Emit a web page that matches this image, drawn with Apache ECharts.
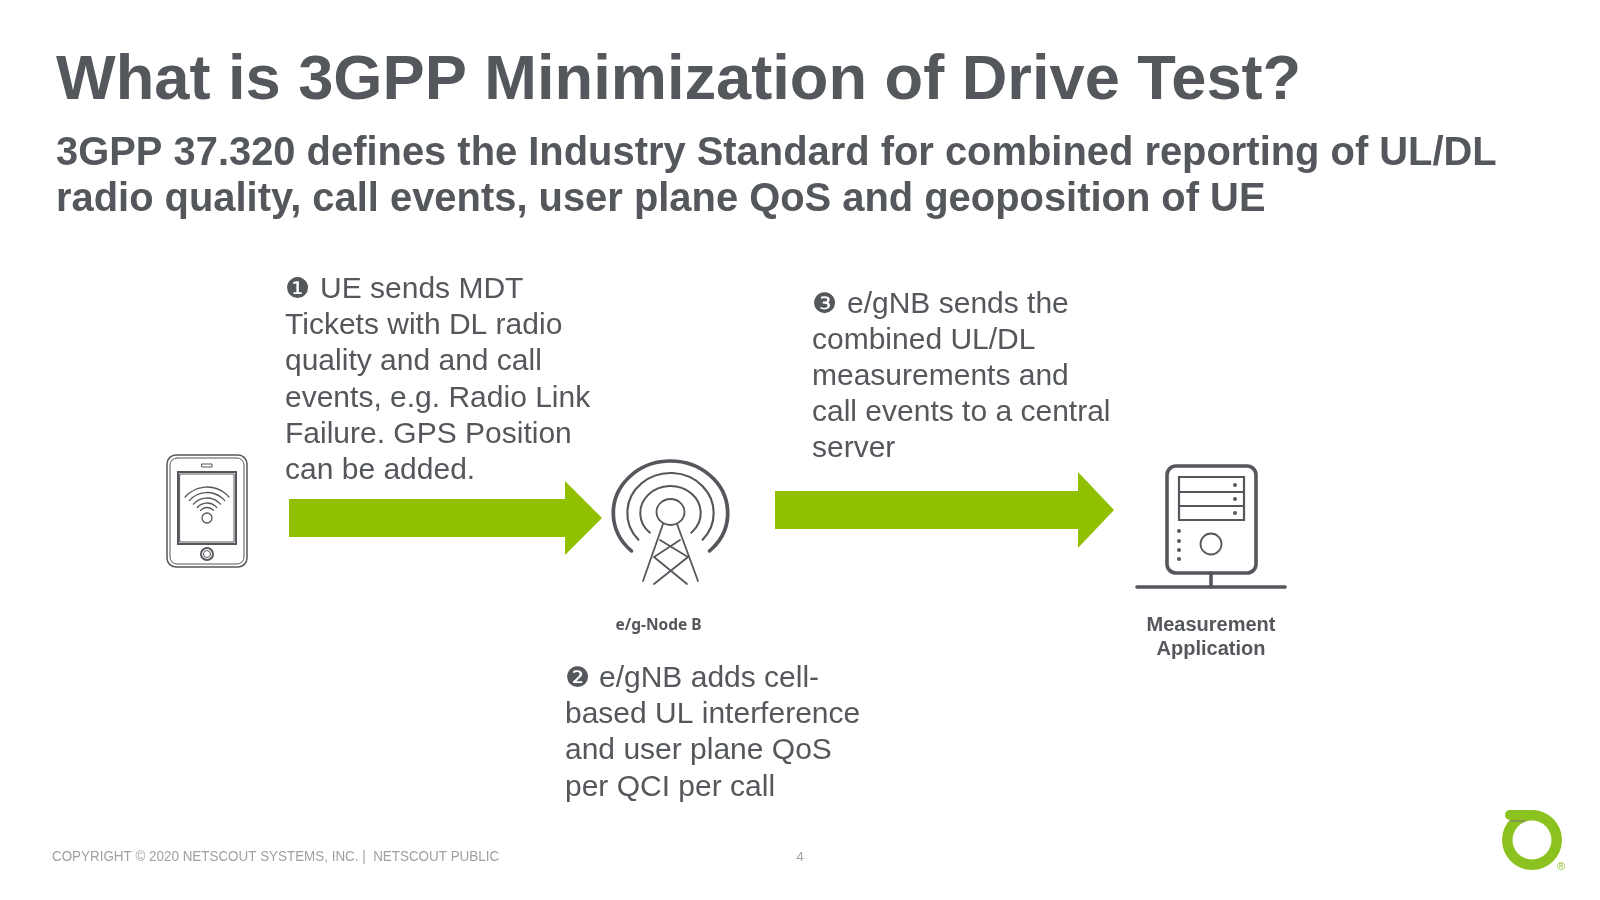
<!DOCTYPE html>
<html>
<head>
<meta charset="utf-8">
<title>3GPP MDT</title>
<script src="https://cdn.jsdelivr.net/npm/echarts@6/dist/echarts.min.js"></script>
<style>
html, body { margin: 0; padding: 0; background: #fff; }
#main { width: 1600px; height: 900px; }
</style>
</head>
<body>
<div id="main"></div>
<script>
var titleText = 'What is 3GPP Minimization of Drive Test?';
var subtitleLines = [
    '3GPP 37.320 defines the Industry Standard for combined reporting of UL/DL',
    'radio quality, call events, user plane QoS and geoposition of UE'
];
var step1Marker = '\u2776';
var step1Lines = ['UE sends MDT', 'Tickets with DL radio', 'quality and and call', 'events, e.g. Radio Link', 'Failure. GPS Position', 'can be added.'];
var step2Marker = '\u2777';
var step2Lines = ['e/gNB adds cell-', 'based UL interference', 'and user plane QoS', 'per QCI per call'];
var step3Marker = '\u2778';
var step3Lines = ['e/gNB sends the', 'combined UL/DL', 'measurements and', 'call events to a central', 'server'];
var nodeLabel = 'e/g-Node B';
var appLabels = ['Measurement', 'Application'];
var footerText = 'COPYRIGHT \u00a9 2020 NETSCOUT SYSTEMS, INC. |  NETSCOUT PUBLIC';
var pageNumber = '4';

var DARK = '#54575b';
var GREEN = '#90c000';
var LOGO = '#8cc220';
var SANS = '"Liberation Sans", Arial, sans-serif';
var els = [];

function txt(x, y, text, font, fill, align) {
    els.push({
        type: 'text', x: x, y: y,
        style: { text: text, font: font, fill: fill || DARK, textAlign: align || 'left', textVerticalAlign: 'middle' }
    });
}
function stroke(w, color) {
    return { fill: null, stroke: color || DARK, lineWidth: w, lineCap: 'round' };
}
function rect(x, y, w, h, r, lw) {
    els.push({ type: 'rect', shape: { x: x, y: y, width: w, height: h, r: r }, style: stroke(lw) });
}
function circle(cx, cy, r, lw) {
    els.push({ type: 'circle', shape: { cx: cx, cy: cy, r: r }, style: stroke(lw) });
}
function dot(cx, cy, r) {
    els.push({ type: 'circle', shape: { cx: cx, cy: cy, r: r }, style: { fill: DARK } });
}
function line(x1, y1, x2, y2, lw) {
    els.push({ type: 'line', shape: { x1: x1, y1: y1, x2: x2, y2: y2 }, style: stroke(lw) });
}
function poly(points, lw) {
    els.push({ type: 'polyline', shape: { points: points }, style: stroke(lw) });
}
// arc going over the top, a is the angle below horizontal at both ends (degrees)
function topArc(cx, cy, r, sx, a, lw) {
    els.push({
        type: 'arc', x: cx, y: cy, scaleX: sx,
        shape: { cx: 0, cy: 0, r: r, startAngle: (180 - a) * Math.PI / 180, endAngle: (360 + a) * Math.PI / 180, clockwise: true },
        style: stroke(lw)
    });
}
function arrow(x0, x1, x2, yc, hs, hh) {
    els.push({
        type: 'polygon',
        shape: { points: [[x0, yc - hs], [x1, yc - hs], [x1, yc - hh], [x2, yc], [x1, yc + hh], [x1, yc + hs], [x0, yc + hs]] },
        style: { fill: GREEN }
    });
}
function block(marker, lines, x, offset, y0, step) {
    txt(x, y0 + 1, marker, '28px "DejaVu Sans"');
    lines.forEach(function (s, i) {
        txt(i === 0 ? x + offset : x, y0 + i * step, s, '30px ' + SANS);
    });
}

// headings
txt(56, 82, titleText, 'bold 63.2px ' + SANS);
subtitleLines.forEach(function (s, i) {
    txt(56, 154 + i * 45.5, s, 'bold 39.9px ' + SANS);
});

// text blocks
block(step1Marker, step1Lines, 285, 35, 290, 36.1);
block(step2Marker, step2Lines, 565, 34, 679, 36.1);
block(step3Marker, step3Lines, 812, 35, 304.5, 36.1);

// arrows
arrow(289, 565, 602, 518, 19, 37);
arrow(775, 1078, 1114, 510, 19, 38);

// phone
rect(167, 455, 80, 112, 9, 1.5);
rect(170, 458, 74, 106, 7, 1);
rect(178, 472, 58, 72, 0, 2);
rect(180, 474, 54, 68, 0, 1);
rect(202, 464, 10, 3, 0, 1);
circle(207, 554, 6, 2);
circle(207, 554, 3.5, 1);
circle(207, 518, 5, 1.3);
[29, 23.5, 18, 13, 8.5].forEach(function (r) {
    els.push({
        type: 'arc',
        shape: { cx: 207, cy: 516, r: r, startAngle: 221 * Math.PI / 180, endAngle: 319 * Math.PI / 180, clockwise: true },
        style: stroke(1.3)
    });
});

// tower
topArc(670.5, 513, 52, 1.1, 47, 3.4);
topArc(670.5, 513, 40, 1.08, 42, 2);
topArc(670.5, 513, 27, 1.12, 47, 1.8);
els.push({ type: 'ellipse', shape: { cx: 670.5, cy: 512, rx: 14, ry: 13 }, style: stroke(1.8) });
line(663, 524, 643, 581, 1.8);
line(677, 524, 698, 581, 1.8);
poly([[660, 540], [688, 557], [654, 584]], 1.8);
poly([[680, 540], [654, 557], [687, 584]], 1.8);
txt(658.5, 626, nodeLabel, 'bold 15.5px "Noto Sans"', DARK, 'center');

// server
rect(1167, 466, 89, 107, 9, 3.6);
rect(1179, 477, 65, 43, 0, 2.2);
line(1179, 492, 1244, 492, 2);
line(1179, 506, 1244, 506, 2);
[485, 499, 513].forEach(function (y) { dot(1235, y, 2); });
[531, 541, 550, 559].forEach(function (y) { dot(1179, y, 2); });
circle(1211, 544, 10.5, 1.8);
line(1211, 573, 1211, 587, 3.6);
line(1137, 587, 1285, 587, 3.6);
appLabels.forEach(function (s, i) {
    txt(1211, 625 + i * 24.5, s, 'bold 20px ' + SANS, DARK, 'center');
});

// footer
els.push({
    type: 'text', x: 52, y: 857, scaleX: 0.925,
    style: { text: footerText, font: '14.5px ' + SANS, fill: '#a0a0a0', textVerticalAlign: 'middle' }
});
txt(800, 857, pageNumber, '13px ' + SANS, '#a0a0a0', 'center');

// logo
els.push({ type: 'ring', shape: { cx: 1532, cy: 840, r: 30, r0: 19.5 }, style: { fill: LOGO } });
els.push({ type: 'rect', shape: { x: 1505, y: 810, width: 30, height: 10, r: [5, 0, 0, 5] }, style: { fill: LOGO } });
els.push({ type: 'rect', shape: { x: 1510, y: 820, width: 15, height: 2 }, style: { fill: '#7f9a50' } });
txt(1561, 867, '\u00ae', '11px ' + SANS, LOGO, 'center');

var chart = echarts.init(document.getElementById('main'));
chart.setOption({
    backgroundColor: '#fff',
    animation: false,
    graphic: { elements: els }
});
</script>
</body>
</html>
